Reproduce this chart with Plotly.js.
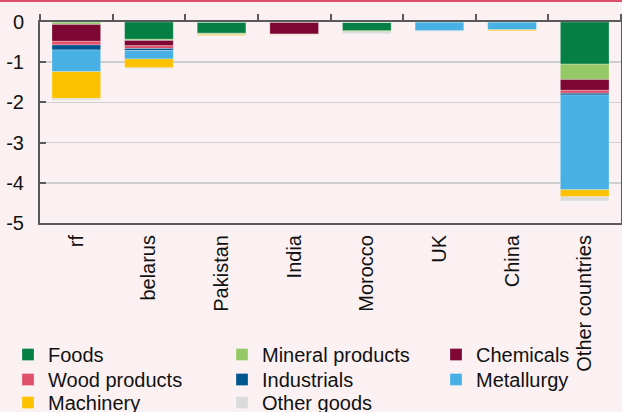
<!DOCTYPE html>
<html>
<head>
<meta charset="utf-8">
<script src="https://cdn.plot.ly/plotly-3.0.1.min.js"></script>
<style>
html,body{margin:0;padding:0;background:#fbf1f2;}
#chart{width:622px;height:412px;}
</style>
</head>
<body>
<div id="chart"></div>
<script>
var categories = ['rf','belarus','Pakistan','India','Morocco','UK','China','Other countries'];
var seriesNames = ['Foods','Mineral products','Chemicals','Wood products','Industrials','Metallurgy','Machinery','Other goods'];
var foods       = [-0.01, -0.43, -0.28, 0,     -0.22,  0,      0,      -1.05];
var mineral     = [-0.05, -0.03, -0.02, 0,     -0.025, 0,      0,      -0.38];
var chemicals   = [-0.42, -0.13, 0,     -0.30, 0,      0,      0,      -0.27];
var wood        = [-0.09, -0.07, 0,     0,     0,      0,      0,      -0.075];
var industrials = [-0.125,-0.05, 0,     0,     0,      0,      0,      -0.04];
var metallurgy  = [-0.54, -0.21, -0.01, 0,     0,      -0.22,  -0.19,  -2.36];
var machinery   = [-0.67, -0.22, -0.03, -0.01, 0,      0,      -0.025, -0.17];
var otherGoods  = [-0.04, -0.02, -0.01, -0.02, -0.05,  -0.015, 0,      -0.11];
var yTickVals = [0,-1,-2,-3,-4,-5];
var yTickText = ['0','-1','-2','-3','-4','-5'];

var seriesValues = [foods, mineral, chemicals, wood, industrials, metallurgy, machinery, otherGoods];
var colors = ['#067f45','#95c965','#7d0632','#e0506a','#00578f','#47b0e4','#fcc200','#dbdbdb'];
// legend rows: 3 entries per row
var legendOf = ['legend','legend','legend','legend2','legend2','legend2','legend3','legend3'];
var legendW  = [169, 169, 100, 169, 169, 100, 169, 169];

var FONT = 'Arial, "Liberation Sans", sans-serif';
var traces = seriesNames.map(function(n,i){
  return {
    type:'bar', name:n, x:categories, y:seriesValues[i],
    marker:{color:colors[i], line:{color:'rgba(255,255,255,0.45)', width:0.6}},
    legend:legendOf[i], legendwidth:legendW[i], hoverinfo:'x+y+name'
  };
});

function leg(y){
  return {x:8/622, xref:'container', xanchor:'left', y:y, yref:'container', yanchor:'top',
    orientation:'h', bgcolor:'rgba(0,0,0,0)', font:{family:FONT, size:20, color:'#111'},
    entrywidthmode:'pixels', traceorder:'normal', itemclick:false, itemdoubleclick:false};
}

var layout = {
  width:622, height:412,
  paper_bgcolor:'#fbf1f2', plot_bgcolor:'#fbf1f2',
  margin:{l:40, r:1, t:22, b:189},
  barmode:'relative', bargap:0.33,
  font:{family:FONT, size:20, color:'#111'},
  xaxis:{
    type:'category', categoryorder:'array', categoryarray:categories,
    tickangle:-90, ticks:'', showline:true, linecolor:'#5a5a5a', linewidth:2,
    showgrid:false, zeroline:false, tickfont:{family:FONT, size:20, color:'#111'},
    ticklabelstandoff:2, fixedrange:true
  },
  xaxis2:{
    overlaying:'x', matches:'x', anchor:'y', side:'top',
    ticks:'outside', tickson:'boundaries', ticklen:6, tickwidth:2, tickcolor:'#5a5a5a',
    showticklabels:false, showline:true, linecolor:'#5a5a5a', linewidth:2,
    showgrid:false, zeroline:false, fixedrange:true
  },
  yaxis:{
    range:[-5,0], tickvals:yTickVals, ticktext:yTickText,
    ticks:'inside', ticklen:6, tickwidth:2, tickcolor:'#5a5a5a',
    showline:true, linecolor:'#5a5a5a', linewidth:2, mirror:true,
    showgrid:true, gridcolor:'#cfcfcf', gridwidth:1.5, zeroline:false,
    tickfont:{family:FONT, size:20, color:'#111'}, ticklabelstandoff:10, fixedrange:true
  },
  legend:leg(1-335/412),
  legend2:leg(1-360/412),
  legend3:leg(1-383/412),
  shapes:[{type:'line', xref:'paper', yref:'paper', x0:-0.1, x1:1.1, y0:1+21/201, y1:1+21/201,
    line:{color:'#dc4f6b', width:2}}]
};

traces.push({type:'bar', x:categories, y:categories.map(function(){return 0;}), xaxis:'x2', yaxis:'y',
  showlegend:false, hoverinfo:'skip', marker:{color:'rgba(0,0,0,0)'}});

Plotly.newPlot('chart', traces, layout, {displayModeBar:false, staticPlot:true});
</script>
</body>
</html>
